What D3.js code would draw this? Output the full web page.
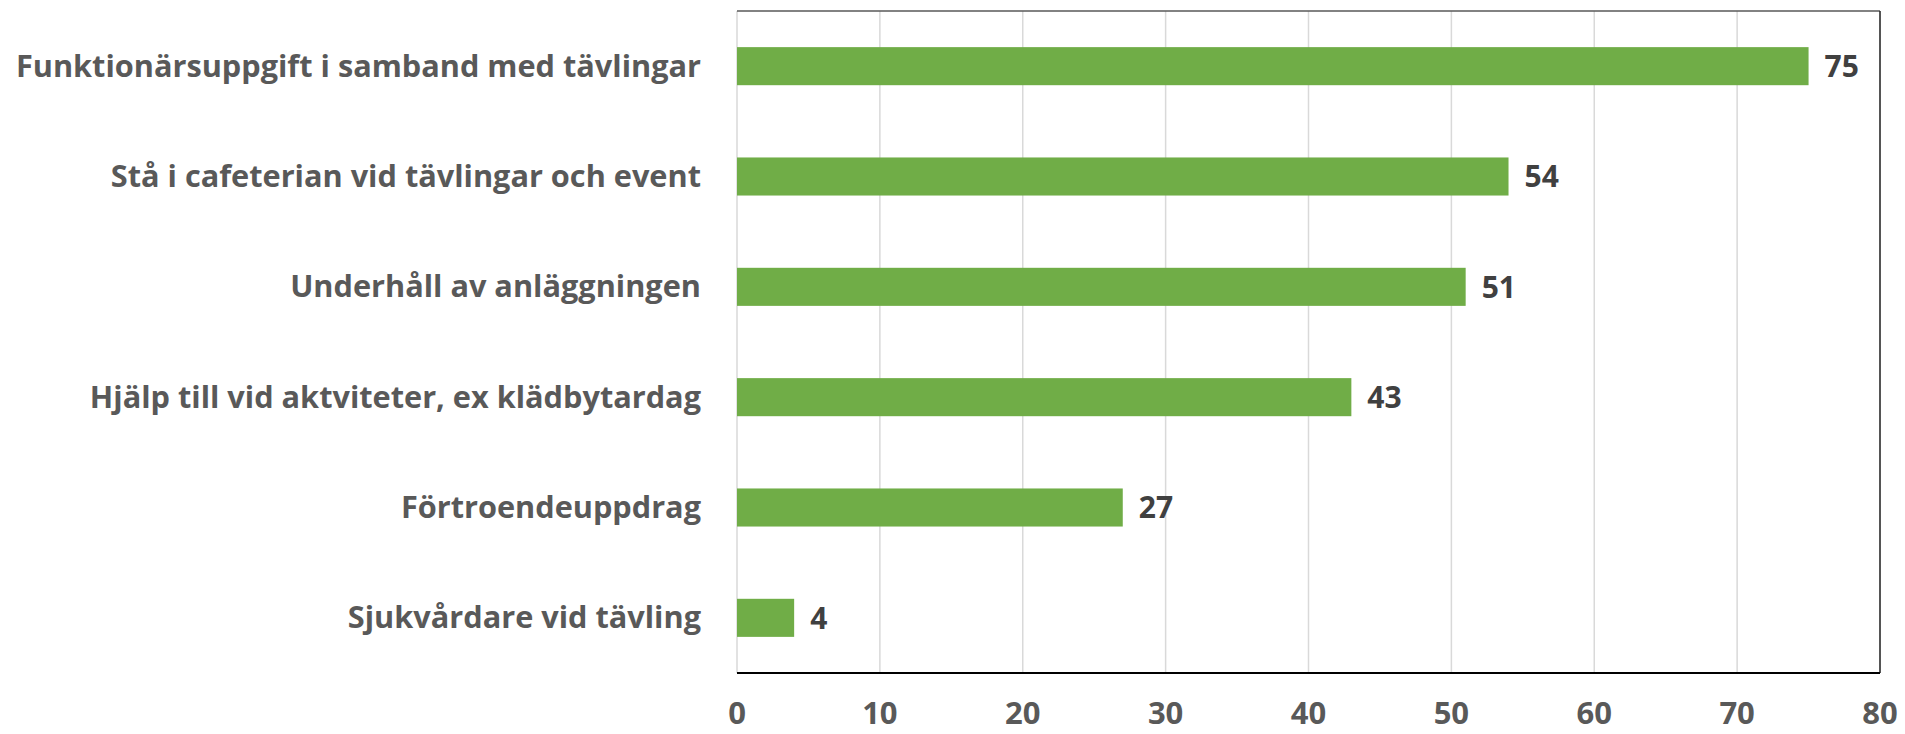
<!DOCTYPE html>
<html><head><meta charset="utf-8">
<script src="https://cdn.jsdelivr.net/npm/d3@7"></script>
<style>html,body{margin:0;padding:0;background:#fff;} svg{display:block;}</style>
</head><body>
<svg id="chart" width="1905" height="734"></svg>
<script>
const categories = ["Funktionärsuppgift i samband med tävlingar","Stå i cafeterian vid tävlingar och event","Underhåll av anläggningen","Hjälp till vid aktviteter, ex klädbytardag","Förtroendeuppdrag","Sjukvårdare vid tävling"];
const values = [75,54,51,43,27,4];
const ticks = [0,10,20,30,40,50,60,70,80];

const svg = d3.select("#chart");
const L = 737, R = 1880, T = 11, B = 673;
const x = d3.scaleLinear().domain([0,80]).range([L,R]);
const y = d3.scaleBand().domain(categories).range([T,B]).paddingInner(0.655).paddingOuter(0.3275);
const font = "'Open Sans', sans-serif";

// gridlines
svg.append("g").selectAll("line").data(ticks).join("line")
  .attr("x1", d=>x(d)).attr("x2", d=>x(d)).attr("y1", T).attr("y2", B)
  .attr("stroke", "#d9d9d9").attr("stroke-width", 1.5);

// frame
svg.append("line").attr("x1",L).attr("x2",R).attr("y1",T).attr("y2",T).attr("stroke","#595959").attr("stroke-width",1.5);
svg.append("line").attr("x1",R).attr("x2",R).attr("y1",T).attr("y2",B).attr("stroke","#262626").attr("stroke-width",1.5);

// bars
svg.append("g").selectAll("rect").data(values).join("rect")
  .attr("x", x(0)).attr("y", (d,i)=>y(categories[i]))
  .attr("width", d=>x(d)-x(0)).attr("height", y.bandwidth())
  .attr("fill", "#70ad47");

// bottom axis line
svg.append("line").attr("x1",L).attr("x2",R).attr("y1",B).attr("y2",B).attr("stroke","#000").attr("stroke-width",2);

// value labels
svg.append("g").selectAll("text").data(values).join("text")
  .attr("x", d=>x(d)+16).attr("y", (d,i)=>y(categories[i])+y.bandwidth()/2)
  .attr("dy","0.36em")
  .attr("font-family", font).attr("font-weight","bold").attr("font-size", 30)
  .attr("fill","#404040").text(d=>d);

// category labels
svg.append("g").selectAll("text").data(categories).join("text")
  .attr("x", 701).attr("y", d=>y(d)+y.bandwidth()/2)
  .attr("dy","0.34em").attr("text-anchor","end")
  .attr("font-family", font).attr("font-weight","bold").attr("font-size", 30.7)
  .attr("fill","#595959").text(d=>d);

// x tick labels
svg.append("g").selectAll("text").data(ticks).join("text")
  .attr("x", d=>x(d)).attr("y", 724).attr("text-anchor","middle")
  .attr("font-family", font).attr("font-weight","bold").attr("font-size", 31)
  .attr("fill","#595959").text(d=>d);
</script>
</body></html>
